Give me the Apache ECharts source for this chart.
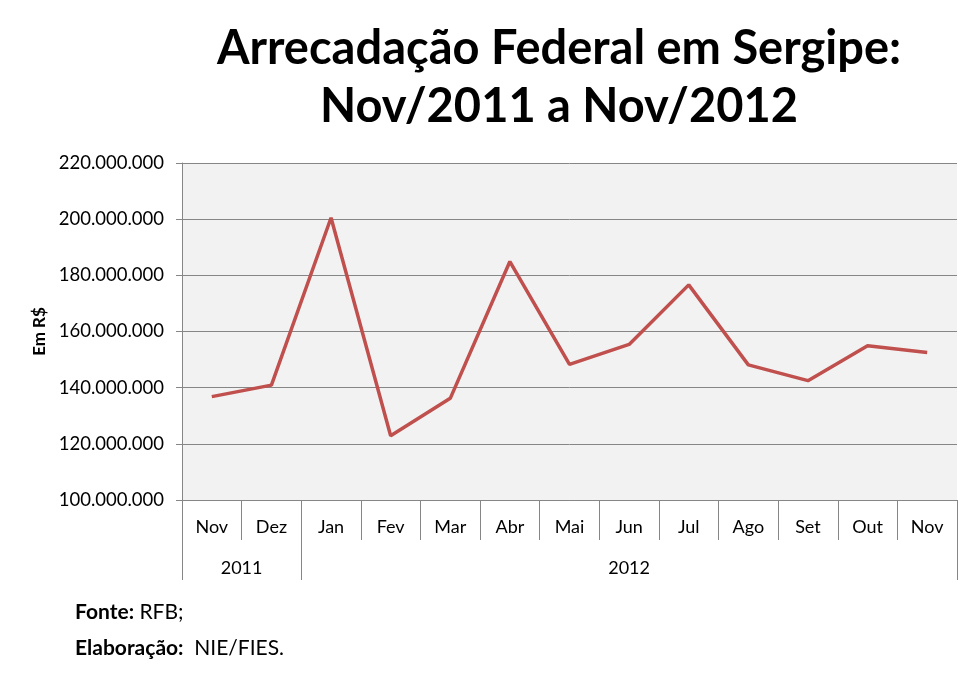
<!DOCTYPE html>
<html>
<head>
<meta charset="utf-8">
<script src="https://cdn.jsdelivr.net/npm/echarts@6/dist/echarts.min.js"></script>
<style>
html,body{margin:0;padding:0;background:#fff;}
#chart{width:980px;height:680px;}
</style>
</head>
<body>
<div id="chart"></div>
<script>
const titleLines = ['Arrecadação Federal em Sergipe:', 'Nov/2011 a Nov/2012'];
const months = ['Nov','Dez','Jan','Fev','Mar','Abr','Mai','Jun','Jul','Ago','Set','Out','Nov'];
const years = ['2011','2012'];
const yearSpans = [2, 11];
const values = [136800000, 140900000, 200500000, 122900000, 136200000, 184900000, 148300000, 155400000, 176600000, 148100000, 142500000, 154900000, 152500000];
const yMin = 100000000, yMax = 220000000, yStep = 20000000;
const yAxisName = 'Em R$';
const sourceLabel = 'Fonte:', sourceText = 'RFB;';
const authorLabel = 'Elaboração:', authorText = 'NIE/FIES.';

const FONT = 'Lato';
const GRID = '#868686';

// year boundaries and centers derived from spans
const yearBounds = [0];
const yearCenters = [];
yearSpans.forEach((s, i) => { yearCenters.push(yearBounds[i] + s / 2); yearBounds.push(yearBounds[i] + s); });

function fmt(v){ return String(Math.round(v)).replace(/\B(?=(\d{3})+(?!\d))/g, '.'); }

const chart = echarts.init(document.getElementById('chart'), null, {renderer:'canvas'});
chart.setOption({
  backgroundColor: '#fff',
  animation: false,
  title: [
    {
      text: titleLines.join('\n'),
      left: 559, top: 20, textAlign: 'center', padding: 0,
      textStyle: {fontFamily: FONT, fontWeight: 'bold', fontSize: 47, lineHeight: 58, color: '#000'}
    },
    {
      text: '{b|' + sourceLabel + '} ' + sourceText + '\n{b|' + authorLabel + '}  ' + authorText,
      left: 75, top: 594, padding: 0,
      textStyle: {
        fontFamily: FONT, fontSize: 21, fontWeight: 'normal', lineHeight: 36, color: '#000',
        rich: {b: {fontFamily: FONT, fontSize: 21, fontWeight: 'bold', color: '#000', lineHeight: 36}}
      }
    }
  ],
  grid: {left: 182, right: 23, top: 163, bottom: 180, show: true, backgroundColor: '#f2f2f2', borderWidth: 0},
  xAxis: [
    {
      type: 'category', data: months, boundaryGap: true,
      axisLine: {show: true, lineStyle: {color: GRID, width: 1}},
      axisTick: {show: true, interval: 0, length: 40, lineStyle: {color: GRID, width: 1}},
      axisLabel: {interval: 0, margin: 18, fontFamily: FONT, fontSize: 18, color: '#000'},
      splitLine: {show: false}
    },
    {
      type: 'value', min: 0, max: months.length, position: 'bottom',
      axisLine: {show: false},
      axisTick: {show: true, customValues: yearBounds, length: 80, lineStyle: {color: GRID, width: 1}},
      axisLabel: {show: true, customValues: yearCenters, margin: 59, fontFamily: FONT, fontSize: 18, color: '#000',
        formatter: v => { const i = yearCenters.indexOf(v); return i >= 0 ? years[i] : ''; }},
      splitLine: {show: false}
    }
  ],
  yAxis: {
    type: 'value', min: yMin, max: yMax, interval: yStep,
    name: yAxisName, nameLocation: 'middle', nameGap: 134, nameRotate: 90,
    nameTextStyle: {fontFamily: FONT, fontWeight: 'bold', fontSize: 17, color: '#000'},
    axisLine: {show: true, lineStyle: {color: GRID, width: 1}},
    axisTick: {show: true, length: 6, lineStyle: {color: GRID, width: 1}},
    axisLabel: {margin: 18, fontFamily: FONT, fontSize: 18.5, color: '#000', formatter: fmt},
    splitLine: {show: true, lineStyle: {color: GRID, width: 1}}
  },
  series: [{
    type: 'line', data: values, xAxisIndex: 0, yAxisIndex: 0,
    symbol: 'none', lineStyle: {color: '#c0504d', width: 3.5}, itemStyle: {color: '#c0504d'}
  }]
});
</script>
</body>
</html>
